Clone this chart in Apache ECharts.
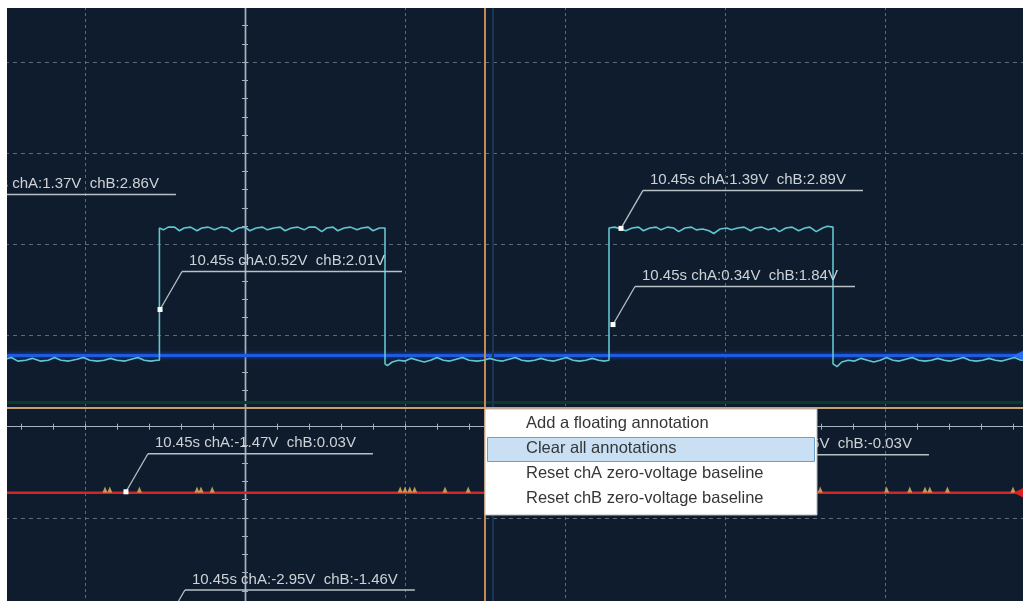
<!DOCTYPE html>
<html><head><meta charset="utf-8">
<script src="https://cdn.jsdelivr.net/npm/echarts@6/dist/echarts.min.js"></script>
<style>
html,body{margin:0;padding:0;background:#fff;overflow:hidden;width:1023px;height:601px;position:relative}
#c{position:absolute;left:-75px;top:-29px;width:1120px;height:638px}
</style>
</head><body><div id="c"></div>
<script>
// ---- data (x: time units, 100 per division; y: value units, 100 per division) ----
const chA = [
  [-150,74],[-146,76],[-142,72],[-137,73],[-133,75],[-128,72],[-123,73],[-119,76],[-115,73],[-110,72],
  [-105,74],[-101,76],[-97,73],[-92,72],[-88,73],[-84,75],[-80,73],[-75,72],[-71,74],[-67,76],[-63,73],
  [-59,72],[-55,73],[-53.5,73],
  [-53.5,218],[-51,216],[-48,219],[-44,219],[-41,215],[-38,218],[-34,219],[-30,215],[-27,218],[-23,219],
  [-19,216],[-15,219],[-11,218],[-8,214],[-4,218],[0,219],[3,215],[7,218],[11,219],[14,216],[18,218],
  [22,219],[25,215],[29,218],[33,219],[37,216],[40,219],[44,219],[48,214],[51,218],[55,219],[58,215],
  [62,218],[66,219],[70,216],[73,218],[77,219],[80,215],[84,218],[87.5,218],
  [87.5,69],[89,67],[92,71],[96,73],[100,72],[104,75],[108,73],[112,71],[116,73],[120,76],[124,73],
  [128,72],[132,74],[136,76],[140,73],[145,72],[149,73],[153,75],[157,73],[161,72],[165,74],[169,76],
  [173,73],[177,72],[181,73],[185,75],[189,73],[193,72],[197,74],[201,76],[205,73],[209,72],[213,73],
  [217,75],[221,73],[225,72],[227.5,73],
  [227.5,218],[231,219],[235,217],[238,215],[242,218],[246,219],[249,215],[253,218],[257,219],[260,216],
  [264,219],[268,218],[271,214],[275,218],[279,219],[282,216],[286,217],[290,215],[293,212],[297,217],
  [301,218],[304,216],[308,218],[312,219],[316,215],[319,218],[323,219],[327,216],[331,218],[334,214],
  [338,218],[342,219],[346,215],[350,218],[353,219],[357,214],[361,218],[364,220],[367.5,219],
  [367.5,69],[370,66],[373,71],[377,73],[381,72],[385,75],[389,73],[393,71],[397,73],[401,76],[405,73],
  [409,72],[413,74],[417,76],[421,73],[425,72],[429,73],[433,75],[437,73],[441,72],[445,74],[449,76],
  [453,73],[457,72],[461,73],[465,75],[469,73],[473,72],[477,74],[481,76],[485,73],[490,73]
];
const chB = [[-150,78],[490,78]];
const chLow = [[-150,-72.5],[490,-72.5]];
const spikeX = [-87.5,-84.5,-66,-30,-27.5,-20.5,97,100,103,106,125,139.5,359.5,401,415.5,425,428,439,480];
const spikeY = -69;
const markerX = 483.5;
const cursorX = 150, cursorY = 21;
const bandY = 26.4, bandX = 155;
const annX = [-194.4,-53.1,235,230,-74.4,270,-51.3];
const annY = [213.2,128.6,217.6,112.1,-71.4,-72.5,-220.9];
const annText = [
  '10.45s chA:1.37V  chB:2.86V',
  '10.45s chA:0.52V  chB:2.01V',
  '10.45s chA:1.39V  chB:2.89V',
  '10.45s chA:0.34V  chB:1.84V',
  '10.45s chA:-1.47V  chB:0.03V',
  '10.45s chA:-1.46V  chB:-0.03V',
  '10.45s chA:-2.95V  chB:-1.46V'
];
const menuItems = ['Add a floating annotation','Clear all annotations','Reset chA zero-voltage baseline','Reset chB zero-voltage baseline'];
const xMin = -200, xMax = 500, xInt = 100;
const yMin = -200, yMax = 500, yInt = 100;

// ---- chart ----
const OX = 75, OY = 29; // container offset (chart div is shifted so the grid extends past the window)
const ANN_FONT = '15px "Liberation Sans", Arial, sans-serif';
const MENU_FONT = '16.5px "Liberation Sans", Arial, sans-serif';
const mctx = document.createElement('canvas').getContext('2d');
mctx.font = ANN_FONT;
function tw(s){ return mctx.measureText(s).width; }

const gridCol = '#5b697a';
const axisCol = '#a9b2bb';

function mkX(pos, show){
  return {type:'value', min:xMin, max:xMax, interval:xInt, position:pos,
    axisLine:{show:true, onZero:true, lineStyle:{color:axisCol, width:1.2}},
    axisTick:{show:true, length:3, lineStyle:{color:axisCol}},
    minorTick:{show:true, splitNumber:5, length:3, lineStyle:{color:axisCol}},
    axisLabel:{show:false},
    splitLine:{show:show, lineStyle:{color:gridCol, type:[3,3], width:1}},
    minorSplitLine:{show:false}};
}
function mkY(pos, show){
  return {type:'value', min:yMin, max:yMax, interval:yInt, position:pos,
    axisLine:{show:true, onZero:true, lineStyle:{color:axisCol, width:1.4}},
    axisTick:{show:true, length:3, lineStyle:{color:axisCol}},
    minorTick:{show:true, splitNumber:5, length:3, lineStyle:{color:axisCol}},
    axisLabel:{show:false},
    splitLine:{show:show, lineStyle:{color:gridCol, type:[4,4], width:1}},
    minorSplitLine:{show:false}};
}

const graphics = [
  {type:'rect', z:90, shape:{x:OX,y:OY,width:1023,height:8}, style:{fill:'#ffffff'}},
  {type:'rect', z:90, shape:{x:OX,y:OY,width:7,height:601}, style:{fill:'#ffffff'}},
  {type:'rect', z:100, shape:{x:OX+485,y:OY+409,width:332,height:106}, style:{fill:'#ffffff', stroke:'#b5b9bd', lineWidth:1}},
  {type:'rect', z:101, shape:{x:OX+487.5,y:OY+437.5,width:327,height:24}, style:{fill:'#c8dff4', stroke:'#6d9dc9', lineWidth:1}}
];
menuItems.forEach((t,i)=>{
  graphics.push({type:'text', z:102, x:OX+526, y:OY+423 + i*25.3,
    style:{text:t, fill:'#363636', font:MENU_FONT, verticalAlign:'middle', align:'left'}});
});

const chart = echarts.init(document.getElementById('c'), null, {renderer:'canvas'});
chart.setOption({
  animation:false,
  backgroundColor:'#0f1c2d',
  grid:{left:0, right:0, top:0, bottom:0, containLabel:false},
  xAxis:[mkX('bottom', true), mkX('top', false)],
  yAxis:[mkY('left', true), mkY('right', false)],
  series:[
    {type:'line', name:'chLow', data:chLow, showSymbol:false, z:3,
     lineStyle:{color:'#d42626', width:2.5},
     markPoint:{silent:true, symbol:'triangle', symbolSize:[10,10], symbolRotate:90,
       itemStyle:{color:'#e02020'}, label:{show:false}, data:[{coord:[markerX, chLow[0][1]]}]},
     markLine:{silent:true, symbol:'none', label:{show:false}, animation:false,
       data:[
         {yAxis:bandY, lineStyle:{color:'#0c3a2a', width:3, type:'solid'}},
         {xAxis:bandX, lineStyle:{color:'#1a3452', width:2, type:'solid'}},
         {xAxis:cursorX, lineStyle:{color:'#c38a55', width:2, type:'solid'}},
         {yAxis:cursorY, lineStyle:{color:'#c9a06c', width:2, type:'solid'}}
       ]}},
    {type:'line', name:'chB', data:chB, showSymbol:false, z:3,
     lineStyle:{color:'#1f5be0', width:3, shadowBlur:4, shadowColor:'#1b4fcf'},
     markPoint:{silent:true, symbol:'triangle', symbolSize:[10,10], symbolRotate:90,
       itemStyle:{color:'#2a6af5'}, label:{show:false}, data:[{coord:[markerX, chB[0][1]]}]}},
    {type:'scatter', name:'spikes', data:spikeX.map(x=>[x, spikeY]), z:4,
     symbol:'triangle', symbolSize:[5,6], itemStyle:{color:'#e8b95c'}, silent:true},
    {type:'line', name:'chA', data:chA, showSymbol:false, z:5,
     lineStyle:{color:'#62c5cf', width:1.6}},
    {type:'custom', name:'annotations', z:6, clip:false, silent:true,
     data:annX.map((x,i)=>[x, annY[i]]),
     renderItem:function(params, api){
       const i = params.dataIndex;
       const p = api.coord([api.value(0), api.value(1)]);
       const tx = p[0] + 22, ty = p[1] - 38;
       const w = tw(annText[i]);
       return {type:'group', children:[
         {type:'line', shape:{x1:p[0], y1:p[1], x2:tx, y2:ty}, style:{stroke:'#b9c0c6', lineWidth:1.3}},
         {type:'line', shape:{x1:tx, y1:ty, x2:tx + w + 24, y2:ty}, style:{stroke:'#b9c0c6', lineWidth:1.5}},
         {type:'text', x:tx + 7, y:ty - 3, style:{text:annText[i], fill:'#cdd2d7', font:ANN_FONT, verticalAlign:'bottom', align:'left'}},
         {type:'rect', shape:{x:p[0]-2.5, y:p[1]-2.5, width:5, height:5}, style:{fill:'#ffffff'}}
       ]};
     }}
  ],
  graphic:graphics
});
</script>
</body></html>
